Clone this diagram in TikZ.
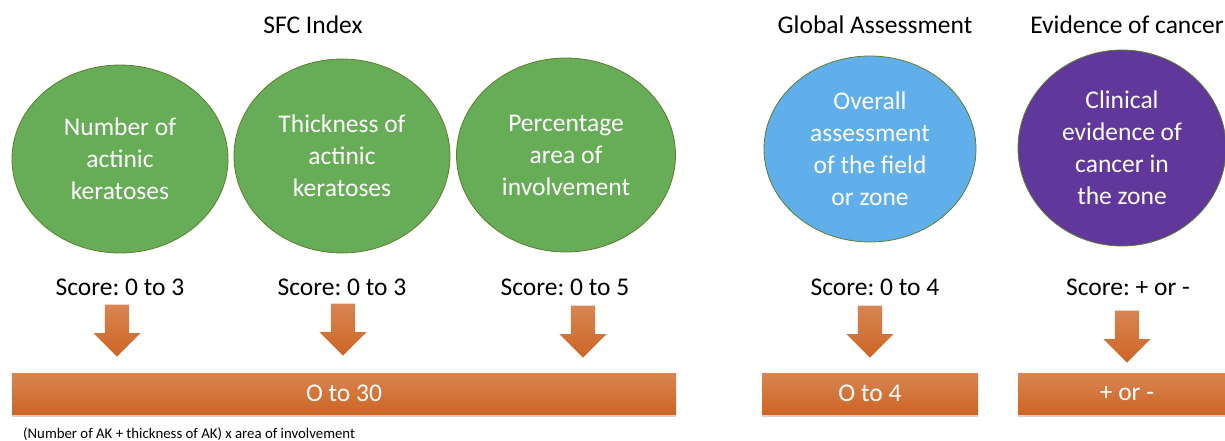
\documentclass[tikz,border=0pt]{standalone}
\usepackage{fontspec}
\setmainfont{Carlito}
\usetikzlibrary{shapes.geometric,shapes.arrows,shadows}
\definecolor{sfcgreen}{HTML}{67AC56}
\definecolor{rimgreen}{HTML}{5E7D2F}
\definecolor{gablue}{HTML}{60AFEA}
\definecolor{cpurple}{HTML}{62379B}
\definecolor{bartop}{HTML}{D98552}
\definecolor{barbot}{HTML}{CC6524}
\frenchspacing

\begin{document}
\begin{tikzpicture}[x=1pt,y=-1pt,
  big/.style={font=\fontsize{25.5}{32}\selectfont},
  blob/.style={ellipse,draw=rimgreen,line width=0.8pt,text=white,align=center,inner sep=0pt,big},
  bar/.style={rectangle,inner sep=0pt,minimum height=41pt,top color=bartop,bottom color=barbot,text=white,big,
    drop shadow={shadow xshift=0pt,shadow yshift=-2.5pt,opacity=.35}},
  downarrow/.style={single arrow,shape border rotate=270,single arrow head extend=11.5pt,inner sep=12pt,
    minimum height=52pt,anchor=tip,top color=bartop,bottom color=barbot}]
  \useasboundingbox (0,0) rectangle (1225,441);

  % headings
  \node[big] (sfc) at (313,25) {SFC Index};
  \node[big] (glob) at (875,25) {Global Assessment};
  \node[big] (evid) at (1127,25) {Evidence of cancer};

  % the five items
  \node[blob,fill=sfcgreen,minimum width=216pt,minimum height=188pt] (num) at (120,159) {Number of\\actinic\\keratoses};
  \node[blob,fill=sfcgreen,minimum width=216pt,minimum height=194pt] (thick) at (342,156) {Thickness of\\actinic\\keratoses};
  \node[blob,fill=sfcgreen,minimum width=219pt,minimum height=194pt] (area) at (566,155) {Percentage\\area of\\involvement};
  \node[blob,fill=gablue,minimum width=212pt,minimum height=186pt] (overall) at (870,149) {Overall\\assessment\\of the field\\or zone};
  \node[blob,fill=cpurple,minimum width=208pt,minimum height=196pt] (clin) at (1122,148) {Clinical\\evidence of\\cancer in\\the zone};

  \node[big] (s1) at (120,287) {Score: 0 to 3};
  \node[big] (s2) at (342,287) {Score: 0 to 3};
  \node[big] (s3) at (565,287) {Score: 0 to 5};
  \node[big] (s4) at (875,287) {Score: 0 to 4};
  \node[big] (s5) at (1128,287) {Score: + or -};

  \node[downarrow] (a1) at (117,357) {};
  \node[downarrow] (a2) at (343,356) {};
  \node[downarrow] (a3) at (583,358) {};
  \node[downarrow] (a4) at (870,358) {};
  \node[downarrow] (a5) at (1127,363) {};

  % totals
  \node[bar,minimum width=664pt] (tot) at (344,393.5) {O to 30};
  \node[bar,minimum width=216pt] (gtot) at (870,393.5) {O to 4};
  \node[bar,minimum width=218pt] (ctot) at (1127,393.5) {+ or -};

  \node[anchor=west,inner sep=0pt,font=\fontsize{14.8}{16}\selectfont] (note) at (23,434) {(Number of AK + thickness of AK) x area of involvement};
\end{tikzpicture}
\end{document}
